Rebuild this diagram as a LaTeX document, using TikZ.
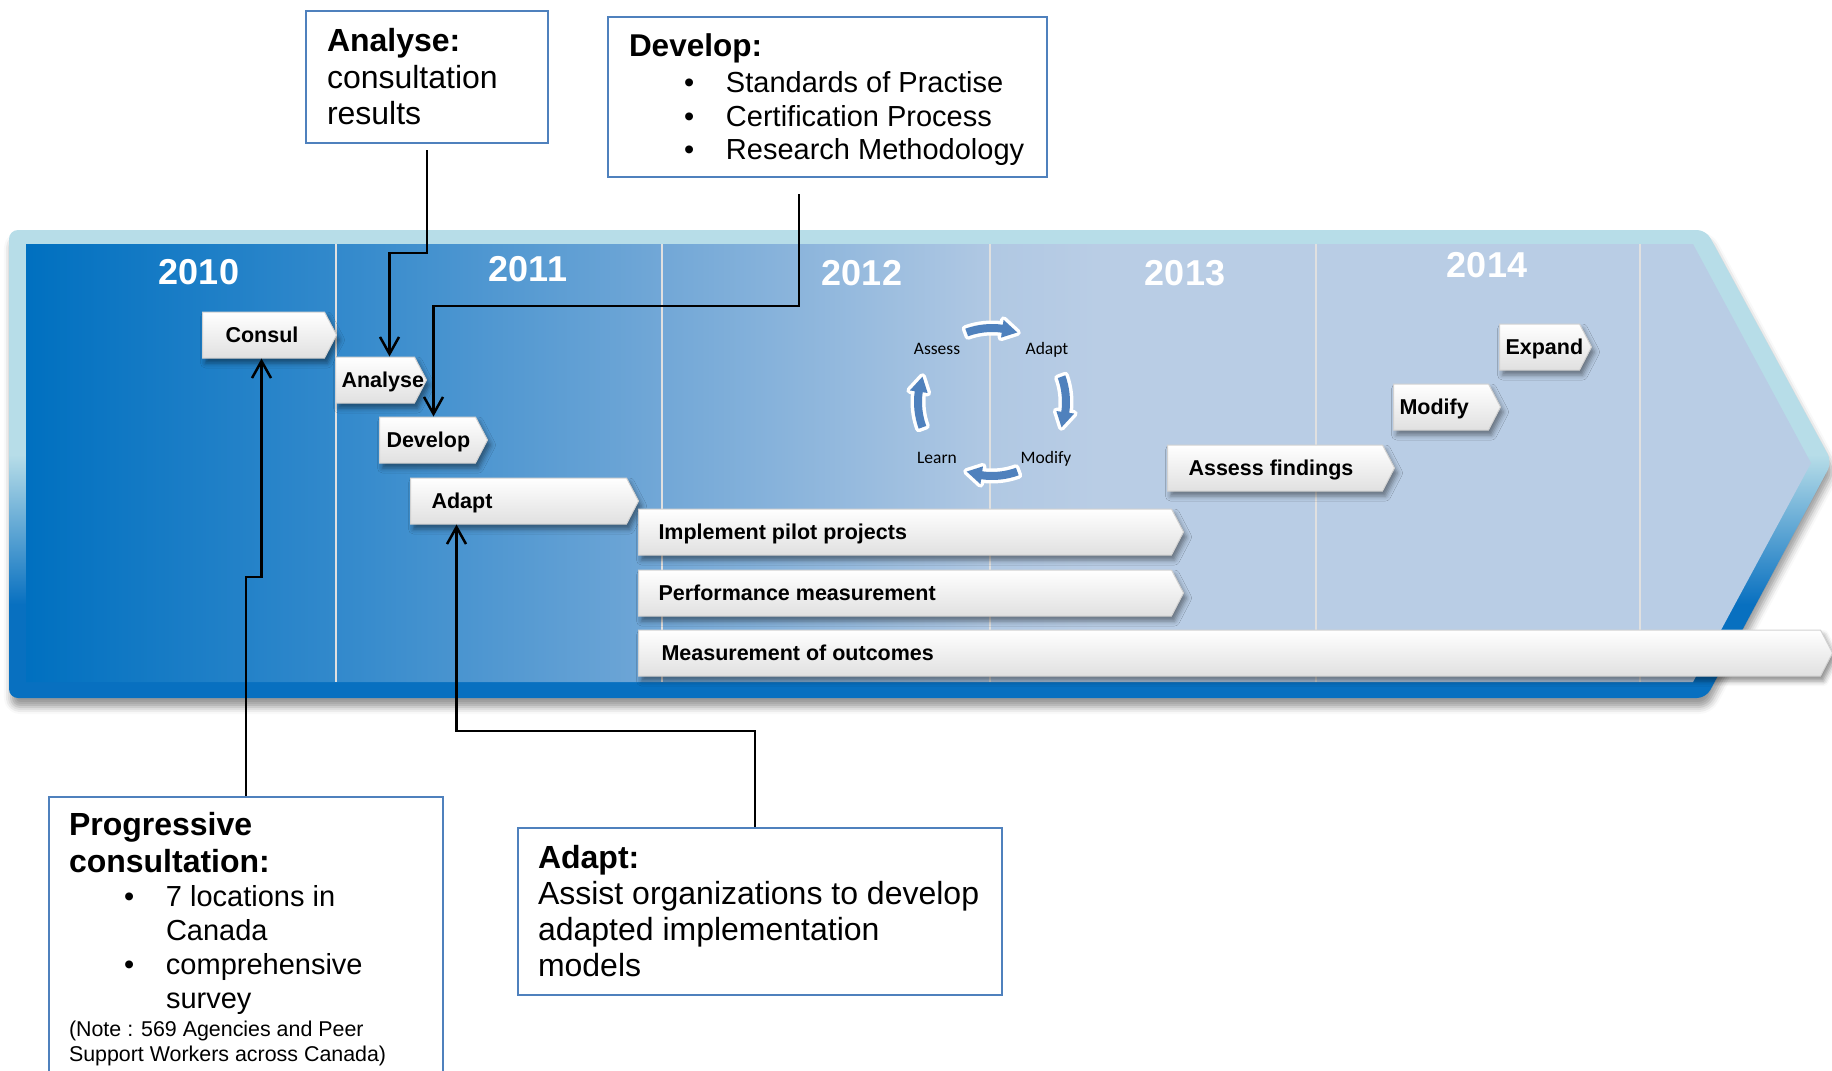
\documentclass[tikz,border=0pt]{standalone}
\usepackage{fontspec}
\setmainfont{Liberation Sans}
\newfontfamily\cyclefont{Carlito}
\usepackage{tikz}
\usetikzlibrary{arrows.meta, shapes.symbols, shadows.blur}

\definecolor{rimlight}{RGB}{183,221,232}
\definecolor{rimdark}{RGB}{8,112,192}
\definecolor{bandA}{RGB}{0,112,192}
\definecolor{bandB}{RGB}{52,138,204}
\definecolor{bandC}{RGB}{115,168,215}
\definecolor{bandD}{RGB}{176,200,227}
\definecolor{bandE}{RGB}{185,205,229}
\definecolor{boxblue}{RGB}{79,129,189}
\definecolor{cycblue}{RGB}{79,129,189}

\pgfdeclareverticalshading{rimshade}{100bp}{color(0bp)=(rimdark); color(35bp)=(rimdark); color(51bp)=(rimlight); color(100bp)=(rimlight)}
\pgfdeclarehorizontalshading{bandshade}{100bp}{color(0bp)=(bandA); color(25bp)=(bandA); color(34bp)=(bandB); color(43bp)=(bandC); color(52bp)=(bandD); color(55bp)=(bandE); color(100bp)=(bandE)}

\newcommand{\itm}[1]{\hspace*{55pt}\makebox[42pt][l]{\textbullet}\mbox{#1}}

\begin{document}
\begin{tikzpicture}
	[x=1pt, y=-1pt,%
	year/.style   ={text=white,	font=\fontsize{36}{36}\selectfont\bfseries,	inner sep=0pt},%
	tag/.style    ={signal, signal to=east, signal from=nowhere, signal pointer angle=125,	draw=black!18, line width=1pt,	top color=white, bottom color=black!12,	minimum height=46pt, inner ysep=2pt, align=left, text height=19.4pt, text depth=4pt,	font=\fontsize{21.5}{24}\selectfont\bfseries, anchor=west,	execute at begin node={\spaceskip=0pt\xspaceskip=0pt},	blur shadow={shadow xshift=3pt, shadow yshift=-5pt, shadow blur radius=5pt, shadow opacity=45}},%
	infobox/.style={rectangle,	draw=boxblue, line width=2pt,	fill=white,	align=left, anchor=north west, inner ysep=0pt,	execute at begin node={\spaceskip=0pt\xspaceskip=0pt}},%
	conn/.style   ={line width=2.5pt,	-{Straight Barb[length=17pt, width=19pt, line width=2.5pt]}},%
	cyc/.style    ={font=\cyclefont\fontsize{17.5}{20}\selectfont,	anchor=base, inner sep=0pt},%
	divider/.style={draw=black!12, line width=1.5pt},%
	]

	\useasboundingbox (0,0) rectangle (1832,1071);
	\clip (0,0) rectangle (1832,1071);

	% band
	\shade [shading=rimshade, rounded corners=9pt,	blur shadow={shadow xshift=2pt, shadow yshift=-9pt, shadow blur radius=7pt, shadow opacity=40}]
		(9,230) -- (1706,230) -- (1832,462) -- (1706,698) -- (9,698) -- cycle;
	\shade [shading=bandshade] (26,244) -- (1693,244) -- (1811,463) -- (1693,682) -- (26,682) -- cycle;
	\foreach \x in {336,662,990,1316,1640} \draw [divider] (\x,244) -- (\x,682);

	% years
	\foreach \yr/\x/\y in {2010/199/272, 2011/528/269, 2012/862/273, 2013/1185/273, 2014/1487/265}%
		\node (y\yr) at (\x,\y) [year] {\yr};

	% cycle
	\node (cassess) at (937,354) [cyc] {Assess};
	\node (cadapt)  at (1047,354) [cyc] {Adapt};
	\node (clearn)  at (937,463) [cyc] {Learn};
	\node (cmodify) at (1046,463) [cyc] {Modify};
	\begin{scope}[shift={(992,402)}]
		\foreach \a in {-90,0,90,180} {
			\path [draw=white, line width=7pt, line join=round, fill=white]
				({\a-20}:78) arc [start angle=\a-20, end angle=\a+8, radius=78] -- ({\a+8}:83) -- ({\a+20}:74) -- ({\a+8}:65) -- ({\a+8}:70) arc [start angle=\a+8, end angle=\a-20, radius=70] -- cycle;
			\path [fill=cycblue]
				({\a-20}:78) arc [start angle=\a-20, end angle=\a+8, radius=78] -- ({\a+8}:83) -- ({\a+20}:74) -- ({\a+8}:65) -- ({\a+8}:70) arc [start angle=\a+8, end angle=\a-20, radius=70] -- cycle;
		}
	\end{scope}

	% tags
	\foreach \nm/\x/\y/\w/\p/\txt in {consul/202/335/134/23/Consul, analyse/335/380/91/6/Analyse, develop/379/440/108/7/Develop, adapt/410/501/228/21/Adapt, implement/638/532/545/20/Implement pilot projects, perform/638/593/545/20/Performance measurement, outcomes/638/653/1194/23/Measurement of outcomes, assess/1167/468/227/21/Assess findings, modify/1393/407/107/6/Modify, expand/1499/347/92/6/Expand}{
		\pgfmathsetmacro\tw{\w-12-2*\p}
		\node (\nm) at (\x,\y) [tag, minimum width=\w pt, inner xsep=\p pt, text width=\tw pt] {\mbox{\txt}};
	}

	% boxes
	\node (anbox) at (305,10) [infobox, minimum width=242pt, minimum height=132pt, text width=200pt, inner xsep=21pt, font=\fontsize{32}{36.5}\selectfont]
		{{\bfseries Analyse:}\\consultation\\results};
	\node (devbox) at (607,16) [infobox, minimum width=439pt, minimum height=160pt, text width=397pt, inner xsep=21pt, font=\fontsize{29}{33.5}\selectfont]
		{{\fontsize{31.5}{33.5}\selectfont\bfseries\rule{0pt}{28pt}Develop:}\\[3pt]\itm{Standards of Practise}\\\itm{Certification Process}\\\itm{Research Methodology}};
	\node (progbox) at (48,796) [infobox, minimum width=394pt, text width=354pt, inner xsep=20pt, inner ysep=15.5pt, font=\fontsize{29}{34}\selectfont]
		{{\fontsize{32}{34}\selectfont\bfseries Progressive}\\[3pt]{\fontsize{32}{34}\selectfont\bfseries consultation:}\\\itm{7 locations in}\\\hspace*{97pt}Canada\\\itm{comprehensive}\\\hspace*{97pt}survey\\[3.5pt]{\fontsize{21.4}{24.5}\selectfont\mbox{(Note : 569 Agencies and Peer}\\\mbox{Support Workers across Canada)}\par}};
	\node (adaptbox) at (517,827) [infobox, minimum width=484pt, minimum height=167pt, text width=444pt, inner xsep=20pt, font=\fontsize{32}{36}\selectfont]
		{{\bfseries Adapt:}\\\mbox{Assist organizations to develop}\\adapted implementation\\models};

	% connectors
	\draw [conn, shorten <=6pt] (anbox.south) -- ++(0,109) -| ([xshift=14.5pt]analyse.north);
	\draw [conn, shorten <=16pt] ([xshift=-28.5pt]devbox.south) -- ++(0,128) -| ([xshift=6pt]develop.north);
	\draw [conn] (progbox.north) -- ++(0,-219) -| ([xshift=-2pt]consul.south);
	\draw [conn] ([xshift=-5pt]adaptbox.north) -- ++(0,-96) -| ([xshift=-62pt]adapt.south);

\end{tikzpicture}
\end{document}
